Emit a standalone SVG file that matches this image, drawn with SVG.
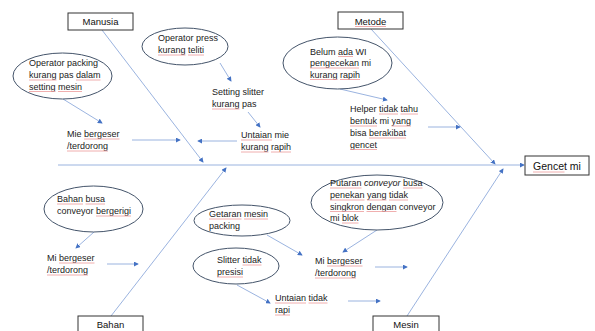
<svg xmlns="http://www.w3.org/2000/svg" width="595" height="331" viewBox="0 0 595 331">
<style>
.t{font-family:"Liberation Sans",Arial,sans-serif;font-size:9px;fill:#222}
.bt{font-family:"Liberation Sans",Arial,sans-serif;font-size:9.5px;fill:#111;text-anchor:middle}
.box{fill:#fff;stroke:#333;stroke-width:1}
.el{fill:#fff;stroke:#44546a;stroke-width:1}
.ln{stroke:#8eaadb;stroke-width:0.9;fill:none;marker-end:url(#ah)}
.sp{stroke:#ec9a9a;stroke-width:0.8;fill:none}
</style>
<defs>
<marker id="ah" viewBox="0 0 6 6" refX="5" refY="3" markerWidth="5" markerHeight="5" orient="auto" markerUnits="userSpaceOnUse">
<path d="M0,0 L6,3 L0,6 z" fill="#4472c4"/>
</marker>
</defs>
<rect width="595" height="331" fill="#fff"/>
<g id="connectors">
<line class="ln" x1="58" y1="165" x2="524" y2="165"/>
<line class="ln" x1="102" y1="30" x2="203" y2="162"/>
<line class="ln" x1="371" y1="29" x2="495" y2="164"/>
<line class="ln" x1="111" y1="316" x2="226" y2="168"/>
<line class="ln" x1="407" y1="316" x2="503" y2="169"/>
<line class="ln" x1="63" y1="99" x2="102" y2="123"/>
<line class="ln" x1="132" y1="140" x2="180" y2="140"/>
<line class="ln" x1="220" y1="63" x2="231" y2="81"/>
<line class="ln" x1="248" y1="112" x2="260" y2="127"/>
<line class="ln" x1="237" y1="141" x2="198" y2="141"/>
<line class="ln" x1="340" y1="89" x2="387" y2="100"/>
<line class="ln" x1="428" y1="127" x2="460" y2="127"/>
<line class="ln" x1="94" y1="232" x2="76" y2="248"/>
<line class="ln" x1="107" y1="264" x2="138" y2="264"/>
<line class="ln" x1="267" y1="235" x2="302" y2="255"/>
<line class="ln" x1="237" y1="285" x2="270" y2="303"/>
<line class="ln" x1="348" y1="301" x2="380" y2="301"/>
<line class="ln" x1="377" y1="230" x2="343" y2="252"/>
<line class="ln" x1="375" y1="267" x2="407" y2="267"/>
</g>
<g id="manusia"><rect class="box" x="68" y="13" width="65" height="17"/><text class="bt" x="100.5" y="25">Manusia</text></g>
<g id="metode"><rect class="box" x="338" y="12" width="65" height="17"/><text class="bt" x="370.5" y="24.5">Metode</text></g>
<g id="bahan"><rect class="box" x="78" y="316" width="65" height="20"/><text class="bt" x="110.5" y="328">Bahan</text></g>
<g id="mesin"><rect class="box" x="373" y="316" width="66" height="20"/><text class="bt" x="406" y="328">Mesin</text></g>
<g id="gencet"><rect class="box" x="525" y="156" width="64" height="19"/><text class="bt" x="557" y="169.5" style="font-size:10.5px">Gencet mi</text></g>
<g id="c1"><ellipse class="el" cx="62.5" cy="76" rx="49.5" ry="23"/><text class="t" x="29" y="66">Operator packing</text><text class="t" x="29" y="78">kurang pas dalam</text><text class="t" x="29" y="89.5">setting mesin</text></g>
<g id="c2"><text class="t" x="67" y="137">Mie bergeser</text><text class="t" x="67" y="149">/terdorong</text></g>
<g id="c3"><ellipse class="el" cx="185" cy="46.5" rx="43" ry="18.5"/><text class="t" x="158" y="41">Operator press</text><text class="t" x="158" y="53">kurang teliti</text></g>
<g id="c4"><text class="t" x="212" y="95">Setting slitter</text><text class="t" x="212" y="107">kurang pas</text></g>
<g id="c5"><text class="t" x="241" y="138">Untaian mie</text><text class="t" x="241" y="150">kurang rapih</text></g>
<g id="c6"><ellipse class="el" cx="337.5" cy="63" rx="54.5" ry="26"/><text class="t" x="310" y="54.5">Belum ada WI</text><text class="t" x="310" y="66">pengecekan mi</text><text class="t" x="310" y="77.5">kurang rapih</text></g>
<g id="c7"><text class="t" x="350" y="112">Helper tidak tahu</text><text class="t" x="350" y="124">bentuk mi yang</text><text class="t" x="350" y="136">bisa berakibat</text><text class="t" x="350" y="147.5">gencet</text></g>
<g id="c8"><ellipse class="el" cx="93.5" cy="209" rx="49.5" ry="23"/><text class="t" x="57" y="202">Bahan busa</text><text class="t" x="57" y="214">conveyor bergerigi</text></g>
<g id="c9"><text class="t" x="47" y="261">Mi bergeser</text><text class="t" x="47" y="273">/terdorong</text></g>
<g id="c10"><ellipse class="el" cx="242" cy="220.5" rx="48" ry="15.5"/><text class="t" x="209" y="217">Getaran mesin</text><text class="t" x="209" y="229">packing</text></g>
<g id="c11"><ellipse class="el" cx="236" cy="266" rx="43" ry="18"/><text class="t" x="217" y="263">Slitter tidak</text><text class="t" x="217" y="275">presisi</text></g>
<g id="c12"><text class="t" x="275" y="301">Untaian tidak</text><text class="t" x="275" y="313">rapi</text></g>
<g id="c13"><ellipse class="el" cx="377" cy="202.5" rx="66" ry="27.5"/><text class="t" x="330" y="186">Putaran <tspan font-style="italic">conveyor</tspan> busa</text><text class="t" x="330" y="198">penekan yang tidak</text><text class="t" x="330" y="209.5">singkron dengan conveyor</text><text class="t" x="330" y="221">mi blok</text></g>
<g id="c14"><text class="t" x="315" y="264">Mi bergeser</text><text class="t" x="315" y="276">/terdorong</text></g>
<g id="spellcheck">
<path class="sp" d="M29,80H56.5M76,80H100.5M29,91.5H55.5M58,91.5H82"/>
<path class="sp" d="M84,139H119.5M67,151H108"/>
<path class="sp" d="M158,55H185.5M188,55H204"/>
<path class="sp" d="M212,109H239.5"/>
<path class="sp" d="M241,140H272M241,152H268.5M271,152H291"/>
<path class="sp" d="M338,56.5H353M310,68H359M310,79.5H337.5M340,79.5H360"/>
<path class="sp" d="M379,114H398M400.5,114H418M350,126H377M391.5,126H411M369,138H406M350,149.5H377"/>
<path class="sp" d="M533,172H564.5"/>
<path class="sp" d="M355,26.5H386"/>
<path class="sp" d="M57,204H83M85.5,204H105M96,216H131"/>
<path class="sp" d="M59,263H94.5M47,275H88"/>
<path class="sp" d="M209,219H241.5M244,219H268"/>
<path class="sp" d="M242.5,265H261.5M217,277H243"/>
<path class="sp" d="M275,303H306M308.5,303H327.5M275,315H290"/>
<path class="sp" d="M330,188H361.5M403,188H422.5M330,200H364.5M367,200H386.5M389,200H408M330,211.5H364M366.5,211.5H396.5M342,223H358.5"/>
<path class="sp" d="M327,266H362.5M315,278H356"/>
</g>
</svg>
